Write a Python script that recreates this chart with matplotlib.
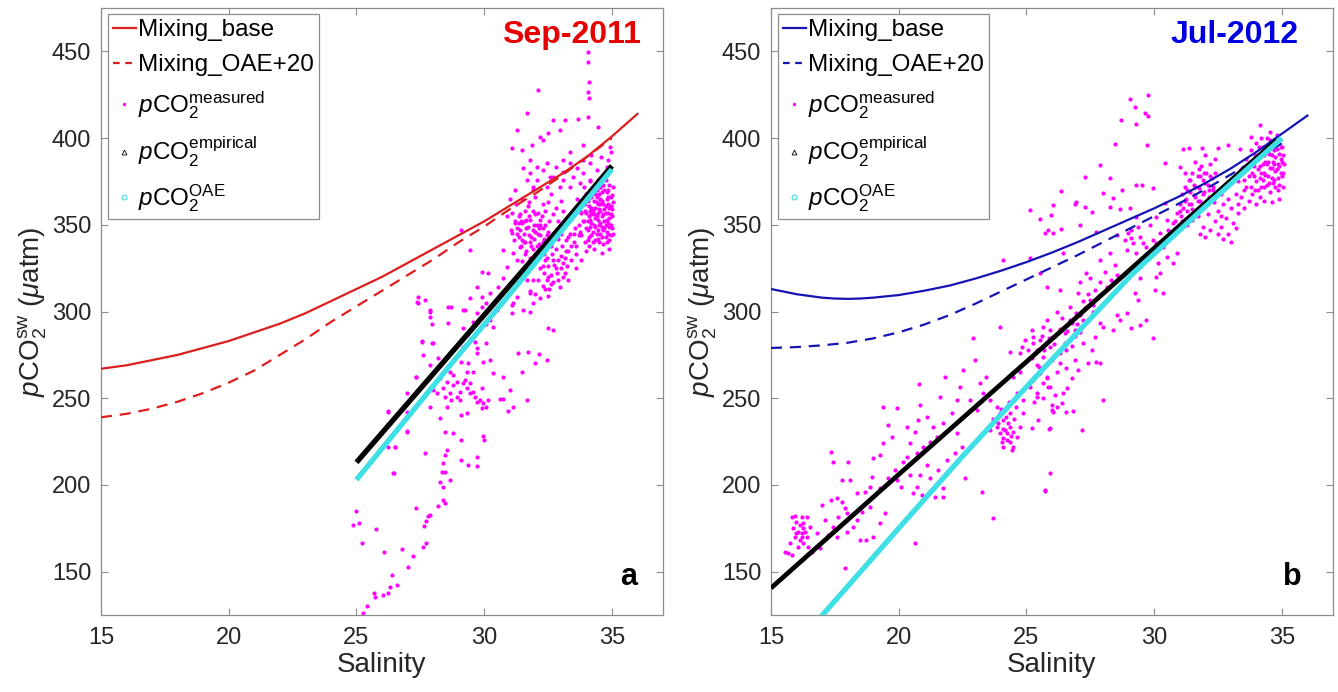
import numpy as np
import matplotlib
matplotlib.use('Agg')
import matplotlib.pyplot as plt
from matplotlib.lines import Line2D

plt.rcParams['font.family'] = ['Liberation Sans', 'DejaVu Sans']
plt.rcParams['mathtext.fontset'] = 'custom'
plt.rcParams['mathtext.rm'] = 'Liberation Sans'
plt.rcParams['mathtext.it'] = 'Liberation Sans:italic'
plt.rcParams['mathtext.bf'] = 'Liberation Sans:bold'

# ---------------- data: panel a (Sep-2011) ----------------
mix_sal_a = [15, 16, 17, 18, 19, 20, 21, 22, 23, 24, 25, 26, 27, 28, 29, 30, 31, 32, 33, 34, 35, 36]
mix_base_a = [267, 269, 272, 275, 279, 283, 288, 293, 299, 306, 313, 320, 328, 336, 344, 352, 361, 370, 379, 389, 401, 414]
oae_sal_a = [15, 16, 17, 18, 19, 20, 21, 22, 23, 24, 25, 26, 27, 28, 29, 30, 31, 32, 33, 34, 35]
mix_oae_a = [239, 241, 244, 248, 253, 259, 266, 275, 284, 294, 303, 312, 321, 330, 340, 349, 359, 368, 378, 389, 400]

emp_sal_a = [25.0, 27.0, 29.0, 31.0, 33.0, 35.0]
emp_pco2_a = [213, 247, 281, 315, 349, 384]
oaepts_sal_a = [25.0, 27.0, 29.0, 31.0, 33.0, 35.0]
oaepts_pco2_a = [203, 239, 275, 310, 346, 382]

meas_a = [
    (34.07, 449.8), (34.07, 444.1), (34.11, 432.5), (34.07, 426.8), (34.11, 423.0),
    (32.12, 427.7), (31.69, 414.7), (34.07, 412.4), (33.68, 410.8), (33.16, 410.4),
    (32.70, 410.4), (34.47, 406.6), (31.27, 404.7), (32.18, 400.8), (32.51, 402.8),
    (32.96, 404.7), (31.07, 394.1), (31.50, 393.1), (31.89, 396.0), (32.31, 398.9),
    (33.36, 392.2), (33.88, 396.0), (34.20, 390.3), (34.56, 389.3), (34.92, 395.1),
    (34.96, 392.2), (34.86, 387.4),
    (32.44, 385.5), (32.83, 383.5), (33.10, 380.6), (33.36, 385.5), (33.62, 382.6),
    (33.88, 379.7), (33.49, 377.8), (33.10, 375.8), (32.57, 377.8), (32.31, 381.6),
    (32.05, 383.5), (31.79, 379.7), (31.66, 375.8), (31.92, 372.0), (32.44, 372.0),
    (32.96, 372.0), (33.36, 372.0), (33.75, 373.9), (34.14, 385.5), (34.40, 381.6),
    (34.66, 377.8), (34.53, 372.0), (34.14, 375.8), (34.79, 383.5), (31.79, 387.4),
    (32.05, 375.8), (31.53, 382.6), (33.10, 387.4), (33.88, 387.4), (32.70, 377.8),
    (31.2, 352), (31.3, 348), (31.35, 343), (31.4, 356), (31.45, 338), (31.5, 351),
    (31.55, 345), (31.6, 340), (31.6, 358), (31.65, 335), (31.7, 349), (31.75, 344),
    (31.8, 353), (31.85, 338), (31.9, 347), (31.95, 342), (32.0, 356), (32.0, 333),
    (32.05, 350), (32.1, 345), (32.15, 339), (32.2, 353), (32.25, 336), (32.3, 348),
    (32.35, 342), (32.4, 358), (32.45, 331), (32.5, 346), (32.55, 352), (32.6, 339),
    (31.25, 362), (31.5, 365), (31.75, 363), (32.0, 366), (32.3, 362), (32.6, 368),
    (32.8, 360), (32.9, 352), (33.0, 364), (31.3, 330), (31.5, 329), (31.8, 331),
    (31.15, 341), (31.4, 347), (31.9, 336), (32.2, 344), (31.6, 352), (32.1, 357),
    (31.35, 355), (32.4, 350), (32.7, 345), (32.7, 356), (31.05, 347), (31.1, 357),
    (31.0, 365), (30.9, 355), (31.2, 370), (31.9, 370), (32.5, 363), (33.1, 358),
    (31.3, 345), (31.45, 352), (31.55, 340), (31.65, 348), (31.75, 355), (31.85, 343),
    (31.95, 350), (32.05, 338), (32.15, 348), (32.25, 355), (32.35, 333), (32.45, 344),
    (31.4, 337), (31.6, 333), (31.7, 361), (31.9, 358), (32.1, 335), (32.3, 340),
    (31.5, 341), (32.0, 346), (31.35, 351), (31.8, 340), (32.2, 350), (31.65, 353),
    (32.4, 338),
    (33.7, 350), (33.75, 358), (33.8, 344), (33.85, 364), (33.9, 352), (33.95, 340),
    (34.0, 357), (34.0, 368), (34.05, 347), (34.1, 361), (34.1, 338), (34.15, 353),
    (34.2, 366), (34.2, 344), (34.25, 358), (34.3, 350), (34.3, 372), (34.35, 341),
    (34.4, 363), (34.4, 355), (34.45, 347), (34.5, 368), (34.5, 359), (34.55, 351),
    (34.6, 343), (34.6, 364), (34.65, 356), (34.7, 370), (34.7, 348), (34.75, 361),
    (34.8, 353), (34.8, 340), (34.85, 366), (34.85, 357), (34.9, 349), (34.9, 373),
    (34.95, 361), (34.95, 344), (35.0, 355), (35.0, 367), (34.15, 375), (34.45, 376),
    (34.75, 376), (33.9, 372), (33.65, 365), (33.6, 338), (34.0, 335), (34.3, 336),
    (34.6, 334), (34.9, 336), (34.35, 360), (34.55, 345), (34.65, 362), (34.25, 346),
    (34.45, 353), (34.15, 358), (34.75, 357), (34.85, 345), (34.5, 340), (34.05, 352),
    (34.7, 352), (34.95, 350), (34.4, 370), (34.2, 351), (34.6, 369), (34.8, 365),
    (34.1, 343), (34.35, 349), (34.55, 358), (34.9, 360), (35.05, 372), (35.05, 345),
    (34.65, 339), (34.3, 364), (33.8, 357), (33.95, 362), (34.55, 372), (34.85, 370),
    (34.0, 348), (34.45, 342),
    (33.75, 346), (33.85, 352), (33.95, 358), (34.05, 364), (34.1, 355), (34.2, 360),
    (34.25, 340), (34.3, 356), (34.35, 368), (34.4, 345), (34.45, 362), (34.5, 350),
    (34.55, 365), (34.6, 355), (34.65, 347), (34.7, 359), (34.75, 343), (34.8, 369),
    (34.85, 351), (34.9, 341), (34.95, 366), (35.0, 359), (35.0, 348), (35.05, 363),
    (34.15, 349), (34.35, 354), (34.55, 362), (34.75, 350), (34.95, 356), (34.25, 370),
    (34.65, 373), (34.05, 341), (34.45, 357), (34.85, 362), (34.6, 349), (34.4, 366),
    (34.2, 356), (34.8, 346), (34.1, 366), (34.9, 354),
    (32.1, 318), (32.2, 325), (32.3, 315), (32.35, 322), (32.4, 330), (32.45, 318),
    (32.5, 326), (32.55, 313), (32.6, 321), (32.65, 333), (32.7, 317), (32.75, 327),
    (32.8, 336), (32.85, 322), (32.9, 330), (32.95, 314), (33.0, 325), (33.05, 338),
    (33.1, 320), (33.15, 331), (33.2, 341), (33.25, 326), (33.3, 335), (33.35, 345),
    (33.4, 330), (33.5, 340), (33.55, 348), (33.6, 333), (33.7, 344), (32.0, 310),
    (31.9, 318), (32.2, 308), (31.8, 312), (32.5, 309), (33.0, 345), (32.6, 338),
    (32.9, 342), (33.3, 318), (33.6, 325), (33.8, 330),
    (32.3, 326), (32.5, 320), (32.7, 330), (32.9, 318), (33.1, 328), (33.2, 335),
    (33.4, 338), (32.8, 325), (33.0, 332), (32.6, 316), (33.3, 343), (33.5, 345),
    (32.4, 313), (33.15, 322),
    (29.90, 323.0), (30.16, 322.0), (29.70, 314.3), (30.22, 310.5), (30.55, 314.3),
    (30.75, 319.1), (30.09, 304.7), (30.49, 300.9), (29.70, 299.0), (30.88, 325.9),
    (31.14, 333.6), (30.75, 335.5), (31.07, 345.1), (31.20, 350.9), (29.44, 307.6),
    (29.90, 308.6), (31.27, 308.6), (31.66, 318.2), (31.79, 310.5), (31.92, 304.7),
    (31.53, 300.9), (31.07, 299.0), (27.42, 308.6), (27.68, 306.7), (28.72, 302.8),
    (29.18, 300.9), (29.11, 347.0), (29.44, 335.5),
    (27.42, 304.7), (27.88, 300.8), (27.94, 293.1), (27.88, 297.0), (28.59, 302.8),
    (28.59, 293.5), (29.25, 300.8), (29.18, 290.3), (29.31, 286.4), (29.57, 294.1),
    (30.09, 293.1), (30.22, 295.1), (30.35, 291.2), (29.90, 302.8), (27.55, 282.6),
    (27.94, 281.6), (27.61, 274.9), (27.88, 269.1), (28.20, 273.0), (28.72, 276.8),
    (29.18, 279.7), (29.11, 271.0), (29.38, 270.1), (29.64, 282.6), (29.70, 278.7),
    (29.70, 275.9), (29.96, 271.0), (30.22, 272.0), (30.09, 281.6), (29.57, 265.3),
    (29.31, 265.3), (28.66, 265.3), (30.35, 264.3), (30.75, 262.0), (31.07, 303.7),
    (31.14, 304.7), (31.79, 299.9), (31.33, 276.2), (31.72, 276.8), (32.14, 275.3),
    (32.47, 272.0), (31.99, 270.1), (31.50, 265.3), (31.66, 248.9), (32.51, 290.3),
    (32.68, 289.3), (31.01, 254.7), (30.62, 249.3), (31.14, 244.7), (30.94, 242.6),
    (30.75, 249.3),
    (28.01, 254.7), (28.14, 252.8), (28.40, 255.7), (28.46, 250.9), (28.72, 248.9),
    (28.92, 250.9), (29.05, 248.9), (29.18, 258.5), (29.25, 260.5), (29.31, 255.7),
    (29.44, 252.8), (29.57, 253.7), (29.64, 250.9), (29.83, 248.9), (29.90, 255.7),
    (29.96, 247.0), (30.09, 245.1), (30.16, 248.9), (27.88, 245.1), (28.27, 238.4),
    (28.53, 259.5), (28.79, 263.4), (28.27, 261.4), (28.53, 245.1), (29.11, 240.3),
    (29.31, 241.3), (29.90, 244.1), (28.79, 257.6), (29.05, 253.7), (29.70, 248.0),
    (29.44, 258.5), (28.66, 252.8), (28.92, 259.5),
    (29.94, 228.2), (29.99, 225.9), (29.11, 225.9), (28.79, 230.1), (28.46, 230.3),
    (28.55, 220.1), (28.46, 217.2), (28.40, 212.4), (29.11, 214.3), (29.38, 211.5),
    (29.70, 211.1), (29.70, 216.3), (27.68, 218.2), (26.44, 206.7), (26.24, 222.0),
    (26.50, 222.0), (26.99, 231.1), (26.24, 242.6), (26.99, 242.2), (27.35, 262.4),
    (28.33, 207.6), (28.46, 207.6), (28.27, 201.9), (28.40, 199.0), (28.66, 202.8),
    (28.20, 188.0), (28.46, 189.4), (28.40, 191.3), (27.35, 186.5), (27.81, 182.0),
    (27.88, 182.8), (27.74, 179.4), (27.64, 176.3), (27.74, 166.3), (27.61, 164.4),
    (27.20, 159.2), (27.03, 152.8), (26.77, 162.8), (26.09, 161.5), (25.76, 174.7),
    (25.00, 185.1), (24.87, 176.9), (25.11, 178.2), (25.20, 166.7), (26.40, 147.8),
    (26.57, 142.1), (26.31, 140.9), (26.24, 137.8), (26.05, 136.5), (25.72, 135.5),
    (25.70, 137.5), (25.42, 130.2), (25.27, 126.0),
    (27.36, 305.6), (27.88, 299.8), (27.55, 283.1), (27.98, 281.6), (27.33, 262.4),
    (26.99, 252.8), (26.25, 242.2), (26.97, 230.6), (26.51, 222.0), (26.48, 207.0),
]

# ---------------- data: panel b (Jul-2012) ----------------
mix_sal_b = [15, 15.5, 16, 16.5, 17, 17.5, 18, 18.5, 19, 20, 21, 22, 23, 24, 25, 26, 27, 28, 29, 30, 31, 32, 33, 34, 35, 36]
mix_base_b = [313, 311.5, 310, 309, 308, 307.5, 307.3, 307.5, 308, 309.5, 312, 315, 319, 323.5, 328.5, 334, 340, 346.5, 353, 359.5, 366.5, 374, 382.5, 392, 402.5, 413]
oae_sal_b = [15, 16, 17, 18, 19, 20, 21, 22, 23, 24, 25, 26, 27, 28, 29, 30, 31, 32, 33, 34, 35]
mix_oae_b = [279, 279.5, 280.5, 282, 284.5, 288, 292.5, 298, 304.5, 311.5, 318.5, 325.5, 332.5, 340, 347.5, 355, 362.5, 370.5, 379, 388, 397]

emp_sal_b = [15.0, 20.0, 25.0, 30.0, 34.8]
emp_pco2_b = [140.5, 206, 271, 336.5, 399]
oaepts_sal_b = [16.9, 20.0, 22.5, 25.25, 27.0, 29.17, 32.0, 35.0]
oaepts_pco2_b = [123, 175, 216.5, 260.5, 288, 322, 360.5, 400]

meas_b = [
    (15.81, 181.7), (15.94, 182.1), (16.20, 181.3), (16.40, 181.7), (16.00, 178.8),
    (16.13, 176.9), (16.27, 175.0), (15.87, 175.0), (16.07, 173.1), (16.20, 172.1),
    (16.33, 173.1), (15.94, 170.2), (16.13, 168.2), (16.27, 166.3), (16.40, 170.2),
    (15.74, 166.3), (16.07, 164.4), (15.55, 161.5), (15.68, 160.6), (15.81, 159.6),
    (16.53, 175.9), (16.46, 164.4), (16.20, 170.2), (16.00, 172.1), (16.27, 177.9),
    (16.92, 163.4), (16.59, 161.5), (16.79, 172.1), (16.98, 188.4), (17.11, 179.8),
    (17.37, 191.3), (17.57, 192.3), (17.77, 190.3), (17.90, 186.5), (17.96, 183.6),
    (17.64, 181.7), (17.44, 175.9), (17.24, 171.1), (17.57, 170.2), (17.96, 173.1),
    (18.22, 175.9), (18.35, 179.8), (17.77, 202.8), (18.03, 213.4), (17.44, 213.4),
    (17.37, 219.2), (18.09, 202.8), (18.35, 195.2), (18.68, 196.1), (18.88, 187.5),
    (18.55, 184.6), (18.48, 168.2), (18.74, 168.2), (17.90, 151.9), (19.01, 170.2),
    (19.27, 177.9), (19.46, 183.6), (18.88, 199.0), (19.27, 198.0), (18.94, 204.8),
    (19.01, 215.3), (19.40, 224.0), (19.72, 227.8), (19.27, 217.3), (19.59, 203.8),
    (19.85, 208.6), (19.92, 202.8), (20.11, 199.0), (20.18, 213.4), (20.31, 216.3),
    (20.44, 224.0), (20.70, 218.2), (20.96, 222.1), (21.22, 225.0), (21.49, 227.8),
    (21.09, 211.5), (20.83, 205.7), (20.44, 205.7), (19.92, 244.2), (19.59, 234.5),
    (19.40, 245.1), (20.64, 166.3), (21.09, 239.4), (21.35, 233.6), (21.62, 250.9),
    (21.75, 235.5), (22.07, 241.3), (22.27, 229.7), (22.46, 222.1), (22.20, 218.2),
    (21.88, 214.4), (21.55, 208.6), (21.22, 203.8), (20.70, 199.0), (20.57, 195.2),
    (20.90, 194.2), (21.75, 198.0), (21.75, 193.2), (21.42, 193.2), (22.59, 203.8),
    (23.25, 196.1), (23.70, 180.7), (22.79, 249.0), (23.05, 243.2), (23.31, 252.8),
    (23.57, 249.0), (23.83, 245.1), (24.10, 237.4), (24.36, 233.6), (23.96, 229.7),
    (24.23, 225.9), (24.49, 222.1), (24.10, 222.1), (23.83, 233.6), (23.57, 231.7),
    (24.62, 227.8), (24.36, 241.3), (24.75, 233.6), (24.88, 249.0), (24.62, 252.8),
    (23.96, 241.3), (24.23, 229.7), (24.10, 226.9), (24.36, 225.0), (24.16, 231.7),
    (24.29, 235.5), (24.03, 225.0), (24.49, 230.7), (24.88, 241.3), (25.14, 256.7),
    (25.40, 250.9), (25.86, 256.7), (25.92, 232.6), (25.99, 243.2), (25.73, 197.1),
    (26.18, 245.1), (23.18, 258.6), (22.40, 256.7), (22.27, 249.0), (20.83, 246.1),
    (20.31, 233.6), (20.64, 230.7), (20.77, 237.4),
    (23.9, 236), (24.0, 244), (24.2, 239), (24.3, 248), (24.4, 228), (24.5, 238),
    (24.6, 245), (23.7, 238), (24.1, 232), (24.45, 220),
    (21.8, 262), (22.5, 266), (23.0, 272), (23.4, 262), (20.8, 258), (22.9, 285),
    (28.01, 249.0), (27.16, 231.7), (25.92, 207.1), (25.73, 196.7), (25.90, 232.1),
    (25.21, 232.6), (26.55, 242.2), (26.81, 242.8), (25.47, 237.4), (26.38, 247.0),
    (25.99, 246.1), (26.05, 242.2), (25.66, 249.9), (26.45, 252.8), (26.58, 255.7),
    (25.40, 252.8), (25.92, 256.7), (26.12, 251.9), (25.30, 248.0), (25.66, 258.6),
    (29.05, 422.3), (29.77, 424.8), (29.25, 417.7), (29.66, 414.6), (29.77, 412.7),
    (28.72, 410.4), (29.28, 407.9), (28.46, 396.6), (29.73, 396.0), (27.88, 384.5),
    (27.29, 377.7), (28.27, 377.3), (26.37, 369.7), (26.90, 362.0), (27.29, 360.4),
    (26.05, 361.4), (25.13, 358.5), (25.53, 353.1), (25.98, 355.6), (25.85, 347.0),
    (25.72, 345.4), (26.05, 345.1), (26.37, 347.4), (27.09, 349.9), (27.55, 357.6),
    (26.96, 363.3), (28.01, 368.1), (28.40, 365.2), (28.76, 370.0), (29.31, 372.9),
    (29.51, 372.9), (29.96, 371.0), (28.27, 360.4), (28.66, 358.9), (29.05, 359.5),
    (29.31, 354.7), (30.42, 385.4), (31.14, 393.5), (31.37, 394.6), (31.86, 394.6),
    (32.51, 394.6), (32.90, 396.0), (33.36, 393.5), (33.81, 400.8), (34.14, 407.5),
    (34.53, 403.7), (31.01, 383.5), (30.42, 362.4),
    (27.74, 346.0), (28.53, 344.1), (28.85, 341.2), (29.11, 347.0), (29.38, 348.9),
    (29.83, 349.9), (30.09, 354.7), (30.22, 345.1), (29.96, 341.2), (30.49, 352.7),
    (30.55, 347.0), (30.75, 350.8), (29.44, 343.1), (29.70, 337.4), (29.18, 339.3),
    (28.92, 335.4), (29.31, 333.5), (28.98, 345.1), (29.11, 342.2), (29.57, 339.3),
    (30.09, 339.3), (29.90, 333.5), (30.35, 337.4), (30.49, 331.6), (30.16, 327.8),
    (30.75, 327.8), (30.88, 333.5), (28.27, 333.5), (27.88, 329.7), (28.46, 326.8),
    (28.07, 323.0), (28.53, 321.0), (28.33, 318.1), (27.88, 317.2), (28.14, 314.3),
    (27.68, 312.4), (27.88, 309.5), (27.48, 306.6), (27.61, 303.7), (27.29, 301.8),
    (26.96, 298.9), (27.22, 295.1), (26.77, 293.2), (26.90, 289.3), (26.50, 287.4),
    (26.31, 312.4), (27.35, 322.0), (27.09, 317.2), (27.48, 319.1), (27.03, 310.5),
    (26.70, 302.8), (29.18, 322.0), (29.44, 319.1), (29.25, 310.5), (29.38, 306.6),
    (30.03, 312.4), (30.09, 320.1), (30.22, 322.0), (30.35, 310.5), (29.70, 295.1),
    (29.44, 292.2), (29.11, 290.3), (28.92, 298.9), (28.66, 295.1), (28.40, 289.3),
    (28.53, 298.0), (29.96, 284.5), (28.01, 291.2), (27.88, 293.2), (27.68, 285.5),
    (27.55, 277.8), (27.09, 288.4), (27.22, 281.6), (27.42, 270.1), (26.90, 272.0),
    (26.57, 277.8), (26.31, 275.9), (25.92, 279.7), (25.66, 273.9), (25.40, 277.8),
    (25.27, 285.5), (25.20, 289.3), (24.94, 283.5), (24.81, 279.7), (25.07, 277.8),
    (25.66, 291.2), (25.79, 295.1), (25.92, 289.3), (26.05, 285.5), (25.53, 283.5),
    (25.27, 281.6), (24.74, 275.9), (25.20, 273.0), (25.40, 269.1), (26.31, 270.1),
    (26.57, 267.2), (27.03, 266.3), (26.18, 265.3), (25.53, 264.3), (25.79, 261.5),
    (25.27, 260.5), (26.77, 261.5), (27.74, 271.1), (27.88, 270.1), (24.74, 265.3),
    (24.48, 262.4), (25.13, 330.6), (24.09, 329.7), (23.96, 291.2), (24.35, 276.8),
    (26.44, 333.5), (25.53, 322.0), (25.79, 314.3),
    (25.5, 268), (25.7, 278), (25.9, 285), (26.1, 281), (26.3, 290), (26.5, 282),
    (26.7, 295), (26.9, 286), (27.1, 298), (25.6, 286), (26.0, 272), (26.4, 296),
    (26.8, 280), (27.2, 306), (25.8, 262), (26.2, 300), (26.6, 289), (27.0, 293),
    (27.4, 310), (27.6, 300),
    (30.8, 352), (30.9, 357), (31.0, 362), (31.05, 355), (31.1, 368), (31.15, 360),
    (31.2, 372), (31.25, 365), (31.3, 358), (31.35, 376), (31.4, 369), (31.45, 362),
    (31.5, 380), (31.55, 373), (31.6, 366), (31.65, 358), (31.7, 378), (31.75, 371),
    (31.8, 364), (31.85, 384), (31.9, 376), (31.95, 369), (32.0, 361), (32.05, 380),
    (32.1, 373), (32.15, 366), (32.2, 385), (32.25, 377), (32.3, 370), (32.35, 363),
    (31.3, 350), (31.5, 353), (31.7, 355), (31.9, 349), (32.1, 356), (31.2, 380),
    (31.6, 386), (32.0, 390), (32.4, 380), (32.4, 388), (30.7, 345), (31.0, 348),
    (31.8, 345), (32.0, 343), (32.2, 347),
    (31.0, 358), (31.1, 352), (31.2, 364), (31.3, 370), (31.4, 376), (31.5, 359),
    (31.6, 372), (31.7, 364), (31.8, 378), (31.9, 368), (32.0, 374), (32.1, 364),
    (32.2, 378), (32.3, 372), (31.35, 362), (31.55, 367), (31.75, 382), (31.95, 380),
    (32.15, 370), (31.45, 355),
    (32.4, 352), (32.5, 358), (32.6, 349), (32.7, 362), (32.8, 354), (32.9, 345),
    (33.0, 360), (33.1, 351), (33.2, 368), (33.3, 357), (32.6, 368), (32.8, 372),
    (33.0, 374), (32.5, 345), (32.7, 342), (33.0, 340), (32.6, 355), (32.9, 365),
    (33.2, 348), (33.3, 362),
    (33.3, 375), (33.4, 382), (33.5, 370), (33.6, 388), (33.7, 378), (33.8, 393),
    (33.85, 368), (33.9, 384), (34.0, 397), (34.0, 375), (34.1, 389), (34.15, 366),
    (34.2, 380), (34.25, 395), (34.3, 372), (34.35, 386), (34.4, 400), (34.45, 378),
    (34.5, 391), (34.55, 369), (34.6, 383), (34.65, 397), (34.7, 376), (34.75, 389),
    (34.8, 402), (34.85, 370), (34.9, 384), (34.95, 395), (35.0, 378), (35.05, 390),
    (33.5, 360), (33.7, 364), (34.0, 362), (34.3, 364), (34.6, 363), (34.9, 365),
    (35.05, 372), (35.1, 385), (33.95, 390), (34.25, 385), (34.5, 374), (34.75, 381),
    (34.05, 370), (34.35, 392), (34.7, 393), (34.45, 386), (34.15, 377), (34.85, 377),
    (33.65, 382), (33.8, 372), (34.55, 399), (34.95, 388), (33.4, 366), (34.2, 400),
    (34.65, 386),
    (33.5, 376), (33.6, 372), (33.75, 386), (33.9, 378), (34.0, 388), (34.05, 382),
    (34.1, 395), (34.2, 372), (34.3, 390), (34.35, 379), (34.4, 385), (34.5, 396),
    (34.55, 383), (34.6, 390), (34.65, 374), (34.7, 385), (34.8, 394), (34.85, 385),
    (34.9, 391), (34.95, 380), (35.0, 386), (35.0, 395), (34.3, 380), (34.15, 384),
    (34.45, 392), (34.75, 372), (33.85, 380), (34.6, 377), (34.9, 373), (34.25, 376),
    (33.95, 370), (34.8, 382), (34.4, 373), (34.7, 399), (35.05, 380),
]

x_ticks = [15, 20, 25, 30, 35]
y_ticks = [150, 200, 250, 300, 350, 400, 450]
x_lim = (15, 37)
y_lim = (125, 475)

MAG = '#ff00ff'
CYAN = '#3fdfe6'
TEXT = '#262626'
AXC = '#8c8c8c'

fig = plt.figure(figsize=(13.38, 6.92), dpi=100)
ax_a = fig.add_axes([0.0755, 0.1113, 0.420, 0.877])
ax_b = fig.add_axes([0.5762, 0.1113, 0.420, 0.877])


def draw(ax, meas, mix_s, mix_b, oae_s, mix_o, emp_s, emp_p, oa_s, oa_p,
         lc, title, title_color, title_x, panel, panel_x, emp_lw):
    s, p = zip(*meas)
    ax.plot(s, p, linestyle='none', marker='o', ms=3.0, mfc=MAG, mec='none', zorder=2)
    ax.plot(mix_s, mix_b, '-', color=lc, lw=1.6, zorder=3)
    ax.plot(oae_s, mix_o, '--', color=lc, lw=1.6, dashes=(5, 3.5), zorder=3)
    ax.plot(emp_s, emp_p, '-', color='black', lw=emp_lw, solid_capstyle='butt', zorder=4)
    ax.plot(oa_s, oa_p, '-', color=CYAN, lw=3.8, solid_capstyle='butt', zorder=5)

    ax.set_xlim(*x_lim)
    ax.set_ylim(*y_lim)
    ax.set_xticks(x_ticks)
    ax.set_yticks(y_ticks)
    ax.tick_params(direction='in', length=5, width=0.8, colors=AXC, labelcolor=TEXT,
                   labelsize=17, top=True, right=True)
    ax.tick_params(axis='x', pad=9)
    ax.tick_params(axis='y', pad=7)
    for sp in ax.spines.values():
        sp.set_color(AXC)
        sp.set_linewidth(0.9)
    ax.set_xlabel('Salinity', fontsize=20, color=TEXT, labelpad=2)
    ax.set_ylabel(r'$p\mathrm{CO}_2^{\mathrm{sw}}$ ($\mu$atm)', fontsize=20,
                  color=TEXT, labelpad=2)

    ax.text(title_x, 0.956, title, transform=ax.transAxes, ha='right', va='center',
            fontsize=23, fontweight='bold', color=title_color)
    ax.text(panel_x, 0.063, panel, transform=ax.transAxes, ha='center', va='center',
            fontsize=22, fontweight='bold', color='black')

    handles = [
        Line2D([], [], color=lc, lw=1.6),
        Line2D([], [], color=lc, lw=1.6, linestyle='--', dashes=(3, 2.5)),
        Line2D([], [], linestyle='none', marker='o', ms=2.4, mfc=MAG, mec='none'),
        Line2D([], [], linestyle='none', marker='^', ms=3.5, mfc='none', mec='black', mew=0.6),
        Line2D([], [], linestyle='none', marker='o', ms=3.5, mfc='none', mec=CYAN, mew=0.8),
    ]
    labels = ['Mixing_base', 'Mixing_OAE+20',
              r'$p\mathrm{CO}_2^{\mathrm{measured}}$',
              r'$p\mathrm{CO}_2^{\mathrm{empirical}}$',
              r'$p\mathrm{CO}_2^{\mathrm{OAE}}$']
    leg = ax.legend(handles, labels, loc='upper left', bbox_to_anchor=(0.012, 0.99),
                    borderaxespad=0, fontsize=17.5, frameon=True, fancybox=False,
                    handlelength=0.95, handletextpad=0.1, borderpad=0.2,
                    labelspacing=0.55, framealpha=1)
    leg.get_frame().set_edgecolor('#8c8c8c')
    leg.get_frame().set_linewidth(0.9)
    for t in leg.get_texts():
        t.set_color('black')


draw(ax_a, meas_a, mix_sal_a, mix_base_a, oae_sal_a, mix_oae_a,
     emp_sal_a, emp_pco2_a, oaepts_sal_a, oaepts_pco2_a,
     '#dc1e1e', 'Sep-2011', '#e60000', 0.96, 'a', 0.938, 3.8)
draw(ax_b, meas_b, mix_sal_b, mix_base_b, oae_sal_b, mix_oae_b,
     emp_sal_b, emp_pco2_b, oaepts_sal_b, oaepts_pco2_b,
     '#1414b4', 'Jul-2012', '#0000e0', 0.938, 'b', 0.927, 3.4)

fig.savefig('out.png', dpi=100)
